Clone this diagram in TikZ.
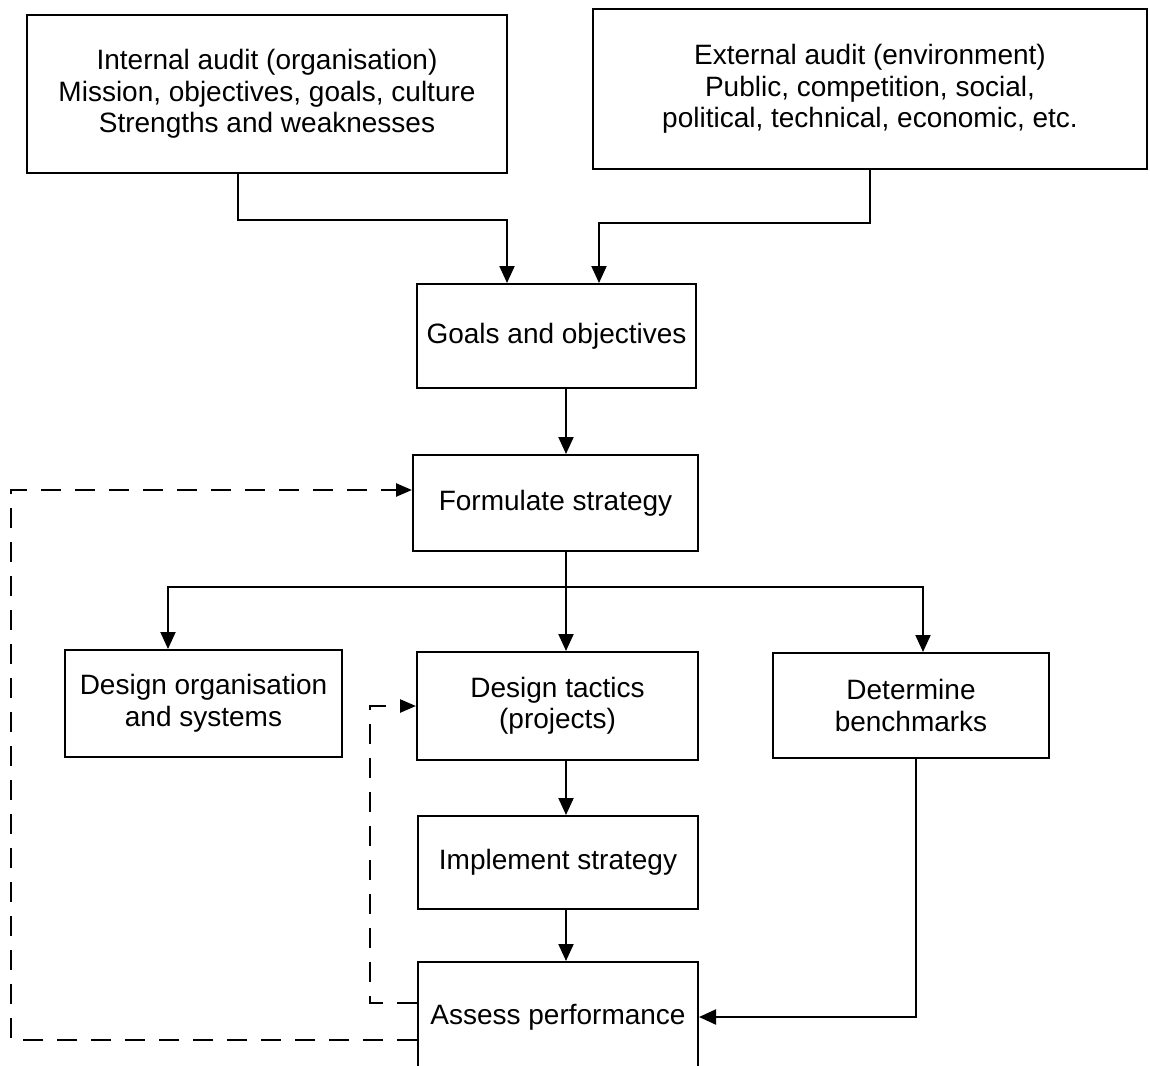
\documentclass[tikz,border=0pt]{standalone}
\usepackage{fontspec}
\setmainfont{Liberation Sans}
\usetikzlibrary{arrows.meta}
\begin{document}
\begin{tikzpicture}[x=1pt,y=-1pt,
  box/.style={draw,line width=2pt,inner sep=0pt,align=center,
    font=\fontsize{28}{31.5}\selectfont},
  arr/.style={line width=2pt,-{Triangle[length=17pt,width=15pt]}},
  feedback/.style={line width=2.5pt,dash pattern=on 20pt off 14pt,
    -{Triangle[length=16pt,width=13pt]}}]
\clip (0,0) rectangle (1150,1065);
\fill[white] (0,0) rectangle (1150,1065);

% boxes
\node[box,minimum width=480pt,minimum height=158pt] (internal) at (267,94)
  {Internal audit (organisation)\\Mission, objectives, goals, culture\\Strengths and weaknesses};
\node[box,minimum width=554pt,minimum height=160pt] (external) at (870,89)
  {External audit (environment)\\Public, competition, social,\\political, technical, economic, etc.};
\node[box,minimum width=279pt,minimum height=104pt] (goals) at (556.5,336)
  {Goals and objectives};
\node[box,minimum width=285pt,minimum height=96pt] (formulate) at (555.5,503)
  {Formulate strategy};
\node[box,minimum width=277pt,minimum height=107pt] (org) at (203.5,703.5)
  {Design organisation\\and systems};
\node[box,minimum width=281pt,minimum height=108pt] (tactics) at (557.5,706)
  {Design tactics\\(projects)};
\node[box,minimum width=276pt,minimum height=105pt] (bench) at (911,705.5)
  {Determine\\benchmarks};
\node[box,minimum width=280pt,minimum height=93pt] (implement) at (558,862.5)
  {Implement strategy};
\node[box,minimum width=280pt,minimum height=110pt] (assess) at (558,1017)
  {Assess performance};

% guide coordinates
\coordinate (trunk) at (566,0);
\coordinate (bus) at (0,587);

% audits into goals
\draw[arr] ([xshift=-29pt]internal.south) -- ++(0,46) -| ([xshift=-49.5pt]goals.north);
\draw[arr] (external.south) -- ++(0,53) -| ([xshift=42.5pt]goals.north);

% main column
\draw[arr] (goals.south -| trunk) -- (formulate.north -| trunk);
\draw[arr] (formulate.south -| trunk) -- (tactics.north -| trunk);
\draw[arr] (bus -| trunk) -| ([xshift=-35.5pt]org.north);
\draw[arr] (bus -| trunk) -| ([xshift=12pt]bench.north);
\draw[arr] (tactics.south -| trunk) -- (implement.north -| trunk);
\draw[arr] (implement.south -| trunk) -- (assess.north -| trunk);

% benchmarks into assessment
\draw[arr] ([xshift=5pt]bench.south) |- (assess.east);

% feedback loops
\draw[feedback] ([yshift=14pt]assess.west) -- ++(-47,0) |- (tactics.west);
\draw[feedback] ([yshift=-23pt]assess.west) -- ++(-406,0) |- ([yshift=13pt]formulate.west);
\end{tikzpicture}
\end{document}
